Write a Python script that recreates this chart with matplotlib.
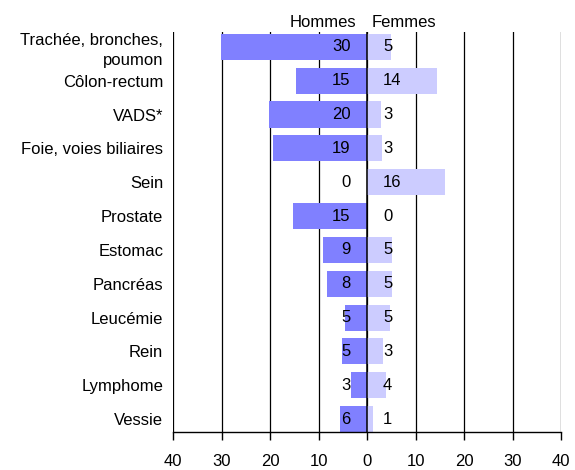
import numpy as np
import matplotlib
matplotlib.use('Agg')
import matplotlib.pyplot as plt
import matplotlib.transforms as mtransforms

plt.rcParams['font.family'] = ['Liberation Sans', 'DejaVu Sans']
plt.rcParams['font.size'] = 12

categories = ['Trachée, bronches,\npoumon', 'Côlon-rectum', 'VADS*', 'Foie, voies biliaires',
              'Sein', 'Prostate', 'Estomac', 'Pancréas', 'Leucémie', 'Rein', 'Lymphome', 'Vessie']
hommes = [30.2, 14.7, 20.3, 19.4, 0, 15.3, 9.1, 8.2, 4.6, 5.2, 3.3, 5.6]
femmes = [5.0, 14.4, 2.9, 3.1, 16.1, 0, 5.2, 5.2, 4.7, 3.3, 3.9, 1.2]
xticks = [-40, -30, -20, -10, 0, 10, 20, 30, 40]

fig = plt.figure(figsize=(5.75, 4.7), dpi=100)
ax = fig.add_axes([0.301, 0.081, 0.675, 0.851])

y = np.arange(len(categories))
h = np.array(hommes)
f = np.array(femmes)

# grid first so bars sit on top
for t in xticks:
    ax.axvline(t, color='black', lw=0.9, zorder=1)

ax.barh(y, -h, height=0.77, color='#8080FF', zorder=2)
ax.barh(y, f, height=0.77, color='#CCCCFF', zorder=2)
ax.axvline(0, color='black', lw=1.1, zorder=3)

for yi, v in zip(y, h):
    ax.annotate(f'{v:.0f}', (0, yi), xytext=(-12, 0), textcoords='offset points',
                ha='right', va='center', zorder=4)
for yi, v in zip(y, f):
    ax.annotate(f'{v:.0f}', (0, yi), xytext=(11.5, 0), textcoords='offset points',
                ha='left', va='center', zorder=4)

ax.set_xlim(-40, 40)
ax.set_ylim(len(categories) - 1 + 0.38, -0.44)
ax.set_xticks(xticks)
ax.set_xticklabels([str(abs(t)) for t in xticks])
ax.set_yticks(y)
ax.set_yticklabels(categories, ha='right', linespacing=1.35)
ax.tick_params(axis='y', length=0, pad=7)
ax.tick_params(axis='x', length=6, width=1, direction='out', pad=10)

for s in ['top', 'right', 'left']:
    ax.spines[s].set_visible(False)
ax.spines['bottom'].set_linewidth(1)

trans = mtransforms.blended_transform_factory(ax.transData, ax.transAxes)
ax.text(-2.3, 1.0125, 'Hommes', transform=trans, ha='right', va='baseline')
ax.text(1.0, 1.0125, 'Femmes', transform=trans, ha='left', va='baseline')

fig.savefig('out.png', dpi=100)
